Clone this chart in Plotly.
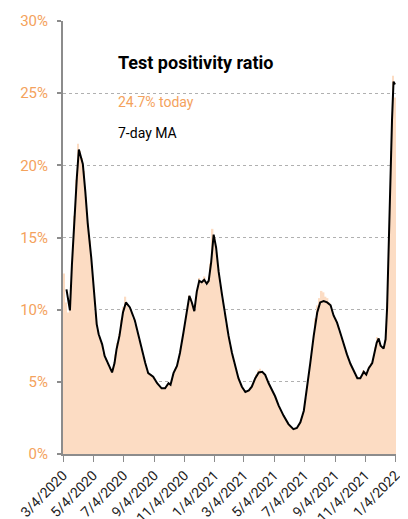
import pandas as pd
import plotly.graph_objects as go

# ---------------- data ----------------
start_date = "2020-03-04"

# daily positivity ratio (%) sampled every 4 days, first sample 2 days after start
bar_values = [
    12.5, 10.5, 9.8, 10.5, 13.0, 16.5, 19.0, 21.5, 21.0, 20.5, 19.6, 17.8, 16.0, 14.8, 13.0, 11.2,
    9.8, 8.6, 8.1, 7.7, 7.0, 6.6, 6.3, 6.0, 5.7, 6.0, 6.9, 7.7, 8.3, 9.3, 10.2, 10.9,
    10.4, 10.1, 9.9, 9.4, 9.0, 8.5, 7.9, 7.3, 6.8, 6.3, 5.8, 5.6, 5.5, 5.4, 5.1, 4.9,
    4.7, 4.6, 4.5, 4.6, 4.7, 4.9, 4.8, 5.4, 5.8, 6.1, 6.7, 7.4, 8.3, 9.0, 9.8, 11.0,
    10.8, 10.2, 10.0, 11.3, 12.2, 11.9, 12.1, 12.3, 11.7, 12.0, 13.2, 15.6, 15.0, 14.0, 12.8, 11.7,
    10.7, 9.8, 9.0, 8.2, 7.5, 6.9, 6.3, 5.8, 5.3, 4.9, 4.6, 4.4, 4.3, 4.4, 4.6, 4.8,
    5.1, 5.5, 5.8, 5.9, 5.7, 5.6, 5.3, 5.0, 4.7, 4.4, 4.1, 3.8, 3.4, 3.1, 2.9, 2.6,
    2.4, 2.1, 2.0, 1.8, 1.7, 1.8, 1.9, 2.2, 2.6, 3.1, 3.9, 5.0, 6.1, 7.3, 8.4, 9.4,
    10.3, 10.8, 11.3, 11.2, 10.9, 10.8, 10.5, 10.0, 9.6, 9.4, 9.0, 8.5, 8.1, 7.7, 7.2, 6.8,
    6.4, 6.1, 5.8, 5.5, 5.3, 5.2, 5.3, 5.8, 5.6, 5.7, 6.1, 6.3, 6.6, 7.4, 8.1, 8.0,
    7.4, 7.3, 7.9, 10.5, 15.5, 21.0, 26.2, 24.7,
]

# 7-day moving average: days since start, value (%)
ma_day = [
    7, 10, 14, 18, 24, 28, 32, 35, 40, 45, 50, 57, 64, 68, 72, 79, 84, 91, 99, 104,
    108, 114, 121, 127, 135, 145, 152, 159, 166, 172, 182, 190, 199, 206, 213, 217, 223, 230, 236, 243,
    250, 255, 260, 265, 270, 275, 280, 285, 290, 294, 299, 304, 309, 314, 321, 327, 334, 341, 348, 354,
    361, 368, 375, 381, 388, 395, 402, 408, 415, 422, 428, 435, 445, 455, 465, 472, 479, 486, 492, 499,
    506, 513, 519, 526, 533, 540, 546, 553, 560, 566, 573, 580, 587, 594, 600, 607, 612, 617, 624, 628,
    633, 637, 641, 647, 651, 654, 657, 661, 664, 667, 670,
]
ma_value = [
    11.4, 10.8, 9.95, 13.1, 17.1, 19.2, 21.1, 20.7, 20.1, 18.2, 15.95, 13.6, 10.5, 9.0, 8.3, 7.6, 6.8, 6.2, 5.65, 6.3,
    7.25, 8.2, 9.8, 10.5, 10.15, 9.25, 8.2, 7.25, 6.3, 5.6, 5.36, 4.9, 4.55, 4.55, 4.9, 4.8, 5.6, 6.1, 7.0, 8.4,
    9.8, 10.95, 10.5, 9.9, 11.25, 12.0, 11.9, 12.07, 11.8, 12.0, 13.3, 15.2, 14.3, 12.65, 11.0, 9.6, 8.2, 7.0, 6.07, 5.25,
    4.66, 4.3, 4.4, 4.66, 5.25, 5.65, 5.7, 5.48, 4.9, 4.47, 4.0, 3.37, 2.66, 2.07, 1.72, 1.8, 2.2, 3.0, 4.4, 6.3,
    8.2, 9.8, 10.5, 10.6, 10.5, 10.3, 9.6, 9.1, 8.35, 7.6, 6.9, 6.25, 5.7, 5.25, 5.25, 5.7, 5.5, 5.95, 6.3, 6.9,
    7.7, 8.0, 7.5, 7.3, 7.95, 10.1, 14.3, 19.5, 23.2, 25.8, 25.6,
]

tick_dates = [
    "2020-03-04", "2020-05-04", "2020-07-04", "2020-09-04", "2020-11-04", "2021-01-04",
    "2021-03-04", "2021-05-04", "2021-07-04", "2021-09-04", "2021-11-04", "2022-01-04",
]
tick_labels = [
    "3/4/2020", "5/4/2020", "7/4/2020", "9/4/2020", "11/4/2020", "1/4/2021",
    "3/4/2021", "5/4/2021", "7/4/2021", "9/4/2021", "11/4/2021", "1/4/2022",
]
y_ticks = [0, 5, 10, 15, 20, 25, 30]
y_labels = ["0%", "5%", "10%", "15%", "20%", "25%", "30%"]

title_text = "Test positivity ratio"
today_text = "24.7% today"
ma_text = "7-day MA"

# ---------------- figure ----------------
t0 = pd.Timestamp(start_date)
bar_dates = pd.date_range(t0 + pd.Timedelta(days=2), periods=len(bar_values), freq="4D")
ma_dates = [t0 + pd.Timedelta(days=d) for d in ma_day]

FONT = "Roboto, Lato, sans-serif"
ORANGE = "#f4a25c"
GRID = "#b0b0b0"
AXIS = "#8c8c8c"

fig = go.Figure()
fig.add_trace(go.Bar(
    x=bar_dates, y=bar_values,
    width=4 * 24 * 3600 * 1000 * 0.75,
    marker=dict(color="#fcdcc3", line=dict(width=0)),
    hoverinfo="skip",
))
fig.add_trace(go.Scatter(
    x=ma_dates, y=ma_value, mode="lines",
    line=dict(color="#000000", width=2),
    hoverinfo="skip",
))

# page body has an 8px margin, so the figure is 400x511 and offsets are reduced by 8px
fig.update_layout(
    width=400, height=511,
    margin=dict(l=55, r=12, t=13, b=65),
    paper_bgcolor="white", plot_bgcolor="white",
    showlegend=False,
    font=dict(family=FONT),
    xaxis=dict(
        type="date",
        range=["2020-03-04", "2022-01-05"],
        tickvals=tick_dates, ticktext=tick_labels,
        tickangle=-45,
        tickfont=dict(family=FONT, size=14, color="#222222"),
        ticks="outside", ticklen=6, tickwidth=1, tickcolor=AXIS,
        showline=True, linecolor=AXIS, linewidth=1.5,
        showgrid=False, zeroline=False,
        automargin=False,
    ),
    yaxis=dict(
        range=[0, 30],
        tickvals=y_ticks, ticktext=y_labels,
        tickfont=dict(family=FONT, size=15, color=ORANGE),
        ticks="outside", ticklen=4, tickwidth=1.5, tickcolor=AXIS,
        ticklabelstandoff=6,
        showline=True, linecolor=AXIS, linewidth=2,
        showgrid=True, gridcolor=GRID, griddash="dot", gridwidth=1,
        zeroline=False,
        automargin=False,
        layer="below traces",
    ),
)

fig.add_annotation(
    x=0.158, y=0.905, xref="paper", yref="paper", xanchor="left", yanchor="middle",
    text="<b>" + title_text + "</b>", showarrow=False,
    font=dict(family=FONT, size=18, color="#000000"),
)
fig.add_annotation(
    x=0.158, y=0.814, xref="paper", yref="paper", xanchor="left", yanchor="middle",
    text=today_text, showarrow=False,
    font=dict(family=FONT, size=14, color=ORANGE),
)
fig.add_annotation(
    x=0.158, y=0.741, xref="paper", yref="paper", xanchor="left", yanchor="middle",
    text=ma_text, showarrow=False,
    font=dict(family=FONT, size=14, color="#000000"),
)

fig.write_html("out.html")
